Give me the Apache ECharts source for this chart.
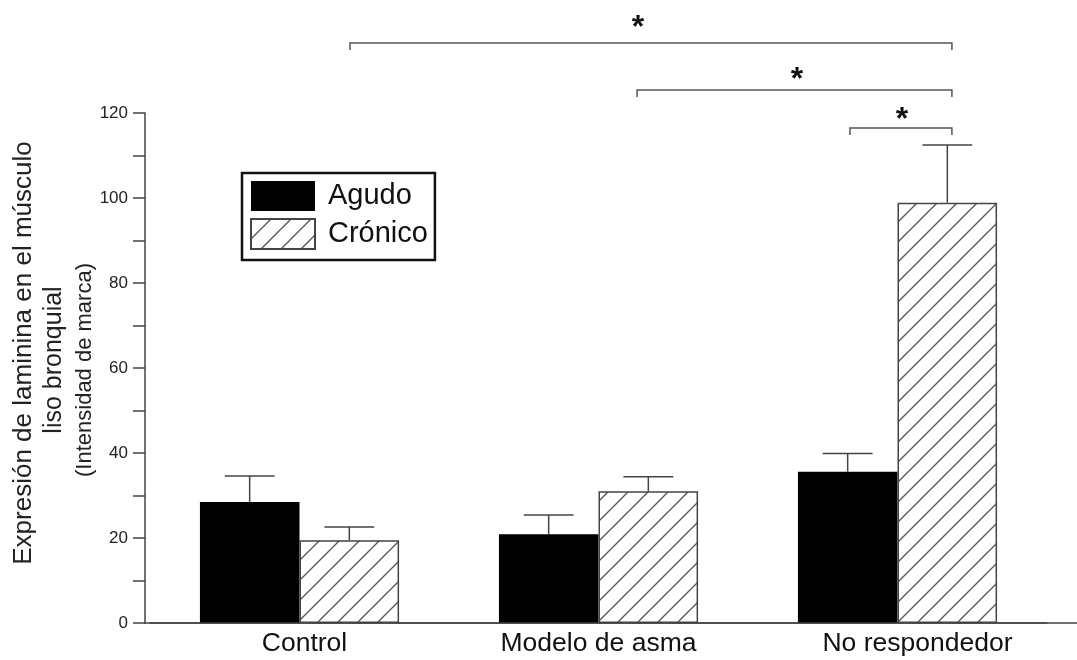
<!DOCTYPE html>
<html><head><meta charset="utf-8">
<script src="https://cdn.jsdelivr.net/npm/echarts@6/dist/echarts.min.js"></script>
<style>html,body{margin:0;padding:0;background:#fff}#c{width:1077px;height:660px}</style>
</head><body><div id="c"></div>
<script>
// ---- data ----
const categories = ['Control', 'Modelo de asma', 'No respondedor'];
const agudo = [28.5, 20.9, 35.6];
const agudoUpper = [34.6, 25.4, 39.9];
const cronico = [19.5, 31.0, 98.9];
const cronicoUpper = [22.6, 34.4, 112.5];
const yTickValues = [0, 20, 40, 60, 80, 100, 120];
// significance brackets: [from (category units), to, y value]
const brackets = [[0.169, 2.182, 136.5], [1.129, 2.182, 125.4], [1.841, 2.182, 116.5]];
// asterisks: [x (category units), y value]
const stars = [[1.132, 141.9], [1.664, 129.6], [2.015, 120.2]];
const seriesNames = ['Agudo', 'Crónico'];
const yTitle = ['Expresión de laminina en el músculo', 'liso bronquial', '(Intensidad de marca)'];

const FONT = '"Liberation Sans", Arial, sans-serif';
// per-label horizontal nudges (style only)
const labelPadLeft = [10, 0, 40];

function hatch() {
  const c = document.createElement('canvas');
  c.width = 20; c.height = 20;
  const g = c.getContext('2d');
  g.fillStyle = '#fff'; g.fillRect(0, 0, 20, 20);
  g.strokeStyle = '#555'; g.lineWidth = 1.3;
  g.beginPath(); g.moveTo(-2, 22); g.lineTo(22, -2); g.stroke();
  g.beginPath(); g.moveTo(-2, 2); g.lineTo(2, -2); g.stroke();
  g.beginPath(); g.moveTo(18, 22); g.lineTo(22, 18); g.stroke();
  return c;
}
const hatchPattern = { image: hatch(), repeat: 'repeat' };

function errSeries(vals, uppers, side) {
  return {
    type: 'custom', xAxisIndex: 0, yAxisIndex: 0, z: 5, silent: true,
    data: vals.map((v, i) => [i, v, uppers[i]]),
    renderItem(params, api) {
      const band = api.size([1, 0])[0];
      const off = side * band / 6;
      const b = api.coord([api.value(0), api.value(1)]);
      const t = api.coord([api.value(0), api.value(2)]);
      const x = b[0] + off, hw = band / 12;
      const st = { stroke: '#444', lineWidth: 1.5 };
      return { type: 'group', children: [
        { type: 'line', shape: { x1: x, y1: b[1], x2: x, y2: t[1] }, style: st },
        { type: 'line', shape: { x1: x - hw, y1: t[1], x2: x + hw, y2: t[1] }, style: st }
      ] };
    }
  };
}

const chart = echarts.init(document.getElementById('c'));
chart.setOption({
  animation: false,
  backgroundColor: '#fff',
  grid: { left: 150, right: 30, top: 113, bottom: 37 },
  legend: {
    data: seriesNames, orient: 'vertical', left: 242, top: 173, icon: 'rect',
    itemWidth: 64, itemHeight: 30, itemGap: 7, padding: [8, 7, 10, 8],
    borderColor: '#111', borderWidth: 2.5, backgroundColor: '#fff',
    textStyle: { fontSize: 29, color: '#111', fontFamily: FONT, padding: [0, 0, 0, 8] }
  },
  xAxis: [{
    type: 'category',
    data: categories.map((c, i) => ({ value: c, textStyle: { padding: [0, 0, 0, labelPadLeft[i]] } })),
    axisLine: { lineStyle: { color: '#444', width: 1.5 } },
    axisTick: { show: false },
    axisLabel: { fontSize: 26.5, color: '#111', fontFamily: FONT, margin: 7 }
  }, {
    type: 'value', min: -0.5, max: 2.5, show: false
  }],
  yAxis: {
    type: 'value', min: 0, max: 120, interval: 20, offset: 5,
    splitLine: { show: false },
    axisLine: { show: true, onZero: false, lineStyle: { color: '#444', width: 1.5 } },
    axisTick: { show: true, length: 12, lineStyle: { color: '#444', width: 1.5 } },
    minorTick: { show: true, splitNumber: 2, length: 12, lineStyle: { color: '#444', width: 1.5 } },
    axisLabel: { fontSize: 17, color: '#222', fontFamily: FONT, margin: 17,
      formatter: v => yTickValues.indexOf(v) >= 0 ? String(v) : '' }
  },
  series: [
    { name: seriesNames[0], type: 'bar', data: agudo, barGap: '0%', barCategoryGap: '33.4%',
      itemStyle: { color: '#000' } },
    { name: seriesNames[1], type: 'bar', data: cronico, barGap: '0%', barCategoryGap: '33.4%',
      itemStyle: { color: hatchPattern, borderColor: '#444', borderWidth: 1.5 } },
    errSeries(agudo, agudoUpper, -1),
    errSeries(cronico, cronicoUpper, 1),
    { type: 'custom', xAxisIndex: 1, yAxisIndex: 0, silent: true, clip: false,
      data: brackets,
      renderItem(params, api) {
        const p1 = api.coord([api.value(0), api.value(2)]);
        const p2 = api.coord([api.value(1), api.value(2)]);
        return { type: 'polyline', shape: { points: [[p1[0], p1[1] + 7], [p1[0], p1[1]], [p2[0], p2[1]], [p2[0], p2[1] + 7]] },
          style: { stroke: '#555', lineWidth: 1.5, fill: null } };
      } },
    { type: 'custom', xAxisIndex: 1, yAxisIndex: 0, silent: true, clip: false,
      data: stars,
      renderItem(params, api) {
        const p = api.coord([api.value(0), api.value(1)]);
        return { type: 'text', x: p[0], y: p[1] + 8,
          style: { text: '*', fontSize: 32, fontWeight: 'bold', fontFamily: FONT, align: 'center', verticalAlign: 'middle', fill: '#111' } };
      } }
  ],
  graphic: [
    { type: 'text', x: 24, y: 353, rotation: Math.PI / 2,
      style: { text: yTitle[0], fontSize: 26, fontFamily: FONT, align: 'center', verticalAlign: 'middle', fill: '#222' } },
    { type: 'text', x: 54, y: 360, rotation: Math.PI / 2,
      style: { text: yTitle[1], fontSize: 25, fontFamily: FONT, align: 'center', verticalAlign: 'middle', fill: '#222' } },
    { type: 'text', x: 85, y: 370, rotation: Math.PI / 2,
      style: { text: yTitle[2], fontSize: 22, fontFamily: FONT, align: 'center', verticalAlign: 'middle', fill: '#222' } }
  ]
});
const y0 = chart.convertToPixel({ yAxisIndex: 0 }, 0);
chart.setOption({ graphic: [ {}, {}, {},
  { type: 'line', shape: { x1: 144, y1: y0, x2: 1077, y2: y0 }, style: { stroke: '#444', lineWidth: 1.5 }, z: 10 }
] });
</script></body></html>
